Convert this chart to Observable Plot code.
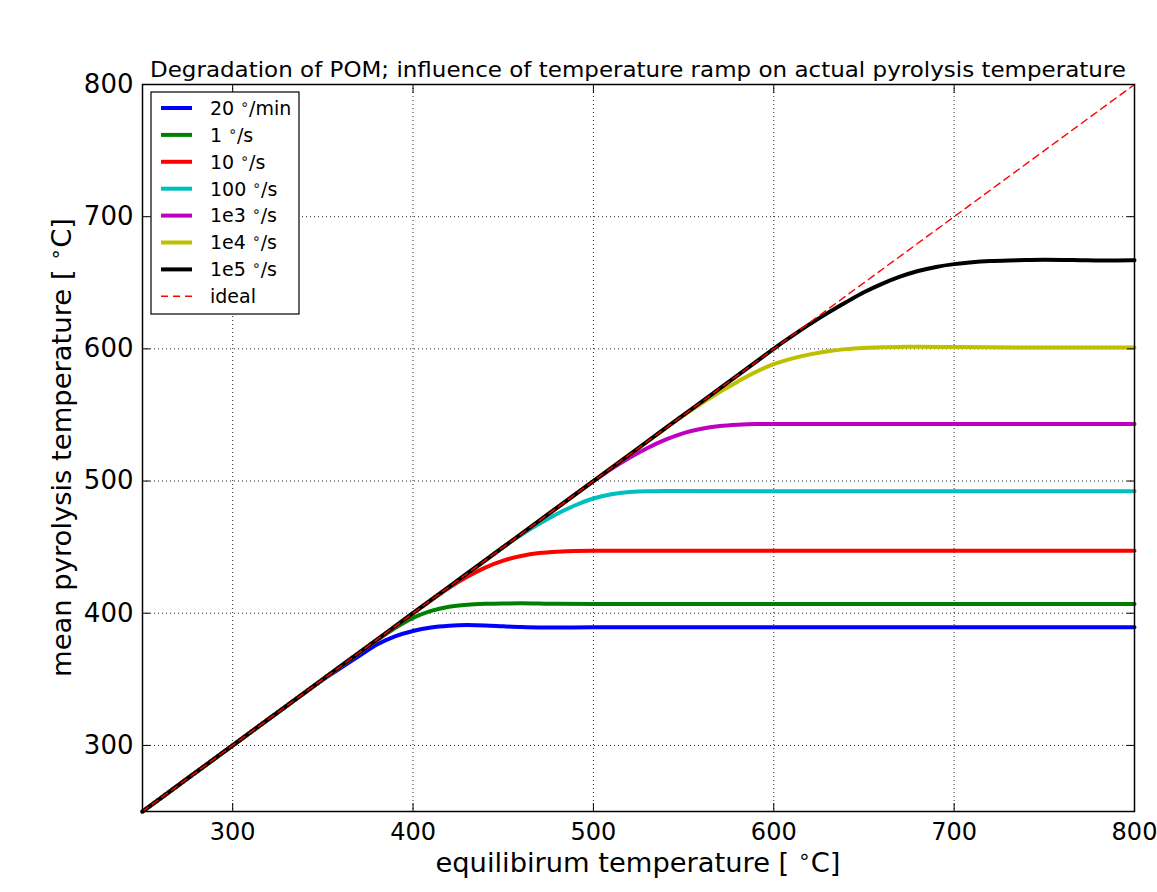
<!DOCTYPE html>
<html>
<head>
<meta charset="utf-8">
<script src="https://cdn.jsdelivr.net/npm/d3@7"></script>
<script src="https://cdn.jsdelivr.net/npm/@observablehq/plot@0.6"></script>
<style>
  html, body { margin: 0; padding: 0; background: #fff; }
  #chart { position: relative; width: 1157px; height: 892px; }
  svg { font-family: "DejaVu Sans", sans-serif; }
</style>
</head>
<body>
<div id="chart"></div>
<script>
// ---- data ----
const titleText = "Degradation of POM; influence of temperature ramp on actual pyrolysis temperature";
const xLabel = ["equilibirum temperature [ ", "C]"];
const yLabel = ["mean pyrolysis temperature [ ", "C]"];
const xTicks = [300, 400, 500, 600, 700, 800];
const yTicks = [300, 400, 500, 600, 700, 800];

const seriesNames = ["20 ∘/min", "1 ∘/s", "10 ∘/s", "100 ∘/s", "1e3 ∘/s", "1e4 ∘/s", "1e5 ∘/s"];
const seriesColors = ["#0000ff", "#008000", "#ff0000", "#00bfbf", "#bf00bf", "#bfbf00", "#000000"];
const idealName = "ideal";

const ramp20min = [[250,250],[275,275],[300,300],[320,320],[340,340],[350,349.8],[360,358.7],[370,367.5],[380,376.3],[390,382.5],[400,386.6],[410,389.2],[420,390.5],[430,391.0],[440,390.8],[450,390.1],[460,389.5],[470,389.2],[480,389.2],[500,389.4],[600,389.4],[700,389.4],[800,389.4]];
const ramp1 = [[250,250],[275,275],[300,300],[325,325],[350,350],[370,370],[380,379.6],[390,388.8],[400,396.5],[410,401.8],[420,404.9],[430,406.4],[440,407.1],[450,407.4],[460,407.5],[470,407.3],[480,407.1],[500,406.9],[600,406.9],[800,406.9]];
const ramp10 = [[250,250],[275,275],[300,300],[325,325],[350,350],[375,375],[395,395],[405,405],[415,414.6],[420,419.2],[430,427.5],[440,434.5],[450,439.8],[460,443.3],[470,445.5],[480,446.6],[490,447.1],[500,447.2],[600,447.2],[800,447.2]];
const ramp100 = [[250,250],[275,275],[300,300],[325,325],[350,350],[375,375],[400,400],[420,420],[440,440],[450,450],[460,459.3],[470,467.6],[480,475.3],[490,481.7],[500,486.8],[510,490.0],[520,491.7],[530,492.3],[540,492.4],[600,492.3],[800,492.3]];
const ramp1e3 = [[250,250],[275,275],[300,300],[325,325],[350,350],[375,375],[400,400],[425,425],[450,450],[470,470],[485,485],[495,495],[505,504.6],[510,509.2],[520,517.6],[530,525.0],[540,531.3],[550,536.3],[560,539.6],[570,541.6],[580,542.6],[590,543.1],[600,543.2],[800,543.2]];
const ramp1e4 = [[250,250],[275,275],[300,300],[325,325],[350,350],[375,375],[400,400],[425,425],[450,450],[475,475],[500,500],[520,520],[535,535],[545,545],[550,549.6],[560,558.8],[570,567.3],[580,575.2],[590,582.5],[600,588.4],[610,592.6],[620,595.8],[630,598.2],[640,599.8],[650,600.7],[660,601.2],[670,601.5],[680,601.6],[700,601.4],[720,601.2],[760,601.0],[800,601.0]];
const ramp1e5 = [[250,250],[275,275],[300,300],[325,325],[350,350],[375,375],[400,400],[425,425],[450,450],[475,475],[500,500],[525,525],[550,550],[575,575],[595,595],[603,603],[610,609.6],[620,618.7],[630,627.2],[640,635.2],[650,642.8],[660,649.2],[670,654.6],[680,658.9],[690,662.0],[700,664.1],[710,665.5],[720,666.4],[730,666.9],[740,667.2],[750,667.4],[760,667.3],[770,667.1],[780,666.9],[790,666.9],[800,667.0]];
const ideal = [[250,250],[800,800]];

const allSeries = [ramp20min, ramp1, ramp10, ramp100, ramp1e3, ramp1e4, ramp1e5];
const rows = allSeries.flatMap((pts, i) => pts.map(([x, y]) => ({series: seriesNames[i], x, y})));
const idealRows = ideal.map(([x, y]) => ({x, y}));

// ---- layout ----
const W = 1157, H = 892;
const mL = 142, mR = 23, mT = 84, mB = 81;

const svg = Plot.plot({
  width: W, height: H,
  marginLeft: mL, marginRight: mR, marginTop: mT, marginBottom: mB,
  style: {fontFamily: "DejaVu Sans", fontSize: "26px", background: "white", color: "black"},
  x: {domain: [250, 800]},
  y: {domain: [250, 800]},
  color: {domain: seriesNames, range: seriesColors},
  marks: [
    Plot.gridX(xTicks, {stroke: "black", strokeOpacity: 0.85, strokeWidth: 1, strokeDasharray: "1,3"}),
    Plot.gridY(yTicks, {stroke: "black", strokeOpacity: 0.85, strokeWidth: 1, strokeDasharray: "1,3"}),
    Plot.line(rows, {x: "x", y: "y", z: "series", stroke: "series", strokeWidth: 4, curve: "monotone-x"}),
    Plot.line(idealRows, {x: "x", y: "y", stroke: "#ff0000", strokeWidth: 1.4, strokeDasharray: "7,5"}),
    // inward tick marks on all four sides
    Plot.axisX(xTicks, {anchor: "bottom", tickSize: 8, dy: -8, tickFormat: () => "", label: null, stroke: "black"}),
    Plot.axisX(xTicks, {anchor: "top", tickSize: 8, dy: 8, tickFormat: () => "", label: null, stroke: "black"}),
    Plot.axisY(yTicks, {anchor: "left", tickSize: 8, dx: 8, tickFormat: () => "", label: null, stroke: "black"}),
    Plot.axisY(yTicks, {anchor: "right", tickSize: 8, dx: -8, tickFormat: () => "", label: null, stroke: "black"}),
    // tick labels
    Plot.axisX(xTicks, {anchor: "bottom", tickSize: 0, tickPadding: 11, label: null, fontSize: 24, fill: "black"}),
    Plot.axisY(yTicks, {anchor: "left", tickSize: 0, tickPadding: 9, label: null, fontSize: 26, fill: "black"}),
    Plot.frame({stroke: "black", strokeWidth: 1.5})
  ]
});
document.getElementById("chart").appendChild(svg);

const s = d3.select(svg);
const cx = (mL + (W - mR)) / 2;

// Title
s.append("text")
  .attr("x", cx).attr("y", 77)
  .attr("text-anchor", "middle")
  .attr("textLength", 976).attr("lengthAdjust", "spacingAndGlyphs")
  .style("font-size", "21.5px").style("fill", "black")
  .text(titleText);

function degreeLabel(sel, parts, size) {
  sel.append("tspan").text(parts[0]);
  sel.append("tspan").attr("baseline-shift", "45%").style("font-size", (size * 0.75) + "px").text("∘");
  sel.append("tspan").text(parts[1]);
}

// X axis label
const xl = s.append("text")
  .attr("x", cx).attr("y", 872)
  .attr("text-anchor", "middle")
  .attr("textLength", 405).attr("lengthAdjust", "spacingAndGlyphs")
  .style("font-size", "26px").style("fill", "black");
degreeLabel(xl, xLabel, 26);

// Y axis label
const cy = (mT + (H - mB)) / 2;
const yl = s.append("text")
  .attr("transform", `translate(71,${cy}) rotate(-90)`)
  .attr("text-anchor", "middle")
  .attr("textLength", 459).attr("lengthAdjust", "spacingAndGlyphs")
  .style("font-size", "26px").style("fill", "black");
degreeLabel(yl, yLabel, 26);

// Legend
const lg = s.append("g").attr("transform", "translate(151,92)");
lg.append("rect").attr("width", 148).attr("height", 222)
  .attr("fill", "white").attr("stroke", "black").attr("stroke-width", 1.2);
const legendItems = seriesNames.map((n, i) => ({name: n, color: seriesColors[i], dash: null, w: 4}))
  .concat([{name: idealName, color: "#ff0000", dash: "7,5", w: 1.4}]);
legendItems.forEach((d, i) => {
  const yy = 16 + i * 26.9;
  lg.append("line").attr("x1", 10).attr("x2", 41).attr("y1", yy).attr("y2", yy)
    .attr("stroke", d.color).attr("stroke-width", d.w).attr("stroke-dasharray", d.dash);
  const t = lg.append("text").attr("x", 59).attr("y", yy + 6.8)
    .attr("text-anchor", "start")
    .style("font-size", "19px").style("fill", "black");
  if (d.name.includes("∘")) {
    const parts = d.name.split("∘");
    t.append("tspan").text(parts[0]);
    t.append("tspan").attr("baseline-shift", "45%").style("font-size", "14px").text("∘");
    t.append("tspan").text(parts[1]);
  } else {
    t.text(d.name);
  }
});
</script>
</body>
</html>
